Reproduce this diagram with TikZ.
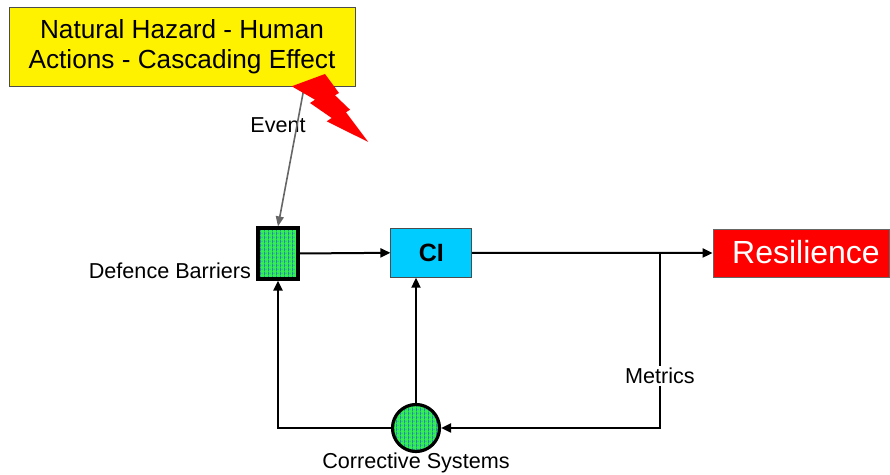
\documentclass[tikz,border=0pt]{standalone}
\usepackage{fontspec}
\setmainfont{Liberation Sans}
\usetikzlibrary{arrows.meta}
\usetikzlibrary{patterns}
\usetikzlibrary{positioning}
\definecolor{meshgreen}{RGB}{50,240,80}
\definecolor{meshblue}{RGB}{40,80,230}
\definecolor{ciblue}{RGB}{0,204,255}
\pgfdeclarepatternformonly{meshdots}{\pgfpointorigin}{\pgfqpoint{2pt}{2pt}}{\pgfqpoint{2pt}{2pt}}{%
  \pgfpathrectangle{\pgfqpoint{0pt}{0pt}}{\pgfqpoint{0.4pt}{2pt}}%
  \pgfpathrectangle{\pgfqpoint{1pt}{0.8pt}}{\pgfqpoint{0.45pt}{0.45pt}}%
  \pgfusepath{fill}}

\begin{document}
\begin{tikzpicture}[x=0.5pt,y=-0.5pt,
  lbl/.style={font=\fontsize{10.8}{13}\selectfont},
  conn/.style={line width=1pt,-{Triangle[length=5pt,width=4.5pt]}},
  mesh/.style={preaction={fill=meshgreen},pattern=meshdots,pattern color=meshblue,draw=black,line width=1.6pt}]
\useasboundingbox (0,0) rectangle (890,475);
% boxes
\node[draw=black!70, fill=yellow, minimum width=173pt, minimum height=39.5pt, inner sep=0pt, align=center,
      font=\fontsize{13.1}{15}\selectfont] (hazard) at (182,46.5) {Natural Hazard - Human\\Actions - Cascading Effect};
\node[mesh, minimum width=20pt, minimum height=25.5pt, inner sep=0pt] (barrier) at (278,253.5) {};
\node[draw=black!70, fill=ciblue, minimum width=40.5pt, minimum height=24.5pt, inner sep=0pt,
      font=\fontsize{12.5}{14}\selectfont\bfseries] (ci) at (431.3,252.8) {CI};
\node[draw=black!60, fill=red, text=white, minimum width=88pt, minimum height=24pt, inner sep=0pt,
      font=\fontsize{16}{18}\selectfont] (resil) at (801,253) {\raisebox{1.5pt}{\hspace{5pt}Resilience}};
\node[mesh, circle, minimum size=23.5pt, inner sep=0pt] (corr) at (416,428) {};
% labels
\node[lbl] (eventlbl) at (278,125) {Event};
\node[lbl, anchor=east] (barrierlbl) at (258,271) {Defence Barriers};
\node[lbl] (corrlbl) at (416,463) {Corrective Systems};
% connectors
\coordinate (hit) at (304,88);
\draw[black!60, line width=0.8pt, -{Triangle[length=5pt,width=4pt]}] (hit) -- (barrier.north);
\draw[conn] (barrier.east) -- (ci.west);
\draw[conn] (ci.east) -- (resil.west);
\coordinate (tap) at (660,253);
\coordinate (turn) at (660,428);
\draw[conn] (tap) -- (turn) -- (corr.east);
\node[lbl, fill=white, inner sep=1pt] (metriclbl) at (660,376) {Metrics};
\draw[conn] (corr.north) -- (corr.north |- ci.south);
\draw[conn] (corr.west) -| (barrier.south);
% lightning
\fill[red] (291.7,86.3) -- (325,74) -- (339,93) -- (335,95.3) -- (350,109.7) -- (346,112.3)
  -- (368.3,142) -- (326.7,121.3) -- (331.7,118) -- (310,103) -- (315,99.7) -- cycle;
\end{tikzpicture}
\end{document}
